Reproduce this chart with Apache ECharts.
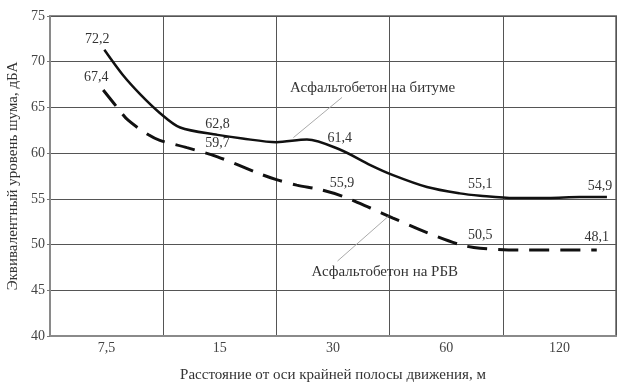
<!DOCTYPE html>
<html>
<head>
<meta charset="utf-8">
<script src="https://cdn.jsdelivr.net/npm/echarts@6/dist/echarts.min.js"></script>
<style>
  html, body { margin: 0; padding: 0; background: #fff; }
  #chart { width: 618px; height: 383px; }
</style>
</head>
<body>
<div id="chart"></div>
<script>
// distance categories (x axis labels)
const categories = ['7,5', '15', '30', '60', '120'];

// curves: x in category-band units (0..5), y in dBA
const bitumX = [0.48, 0.64, 0.80, 0.97, 1.15, 1.48, 1.70, 2.00, 2.27, 2.56, 2.83, 3.03, 3.33, 3.62, 3.80, 4.10, 4.40, 4.68, 4.92];
const bitumY = [71.3, 68.6, 66.4, 64.4, 62.8, 62.0, 61.6, 61.2, 61.5, 60.4, 58.7, 57.6, 56.3, 55.6, 55.35, 55.1, 55.1, 55.2, 55.2];
const rbvX = [0.47, 0.60, 0.69, 0.87, 0.97, 1.21, 1.48, 1.84, 2.00, 2.18, 2.39, 2.58, 2.83, 3.03, 3.33, 3.62, 3.80, 4.15, 4.83];
const rbvY = [66.9, 64.9, 63.6, 62.0, 61.4, 60.6, 59.6, 57.8, 57.1, 56.5, 56.0, 55.3, 54.0, 52.9, 51.3, 50.0, 49.6, 49.4, 49.4];

// value labels written on the curves, keyed by point index
const bitumLabels = { 0: '72,2', 5: '62,8', 9: '61,4', 14: '55,1', 18: '54,9' };
const rbvLabels = { 0: '67,4', 6: '59,7', 11: '55,9', 16: '50,5', 18: '48,1' };

const FONT = '"Liberation Serif", "DejaVu Serif", serif';

function buildData(xs, ys, labels, shiftLast) {
  return xs.map((x, i) => {
    const item = { value: [x, ys[i]] };
    if (labels[i] !== undefined) {
      item.label = { show: true, formatter: labels[i] };
      // labels at the curve ends sit a little to the left
      if (i === 0 || (shiftLast && i === xs.length - 1)) item.label.offset = [-7, 0];
    }
    return item;
  });
}

const chart = echarts.init(document.getElementById('chart'), null, { renderer: 'canvas' });

const option = {
  animation: false,
  grid: {
    left: 50,
    right: 2,
    top: 16,
    bottom: 47,
    outerBoundsMode: 'none',
    show: true,
    borderColor: '#8a8a8a',
    borderWidth: 2
  },
  xAxis: [
    {
      type: 'category',
      data: categories,
      boundaryGap: true,
      position: 'bottom',
      name: 'Расстояние от оси крайней полосы движения, м',
      nameLocation: 'middle',
      nameGap: 32,
      nameTextStyle: { fontFamily: FONT, fontSize: 15, color: '#333' },
      axisLine: { lineStyle: { color: '#8a8a8a', width: 2 } },
      axisTick: { show: false },
      axisLabel: { fontFamily: FONT, fontSize: 14, color: '#444', margin: 5 },
      splitLine: { show: true, lineStyle: { color: '#555', width: 1 } }
    },
    {
      type: 'value',
      min: 0,
      max: 5,
      position: 'bottom',
      show: false
    }
  ],
  yAxis: {
    type: 'value',
    min: 40,
    max: 75,
    interval: 5,
    name: 'Эквивалентный уровень шума, дБА',
    nameLocation: 'middle',
    nameGap: 28,
    nameTextStyle: { fontFamily: FONT, fontSize: 15, color: '#333' },
    axisLine: { show: true, lineStyle: { color: '#8a8a8a', width: 2 } },
    axisTick: { show: true, length: 3, lineStyle: { color: '#777' } },
    axisLabel: { fontFamily: FONT, fontSize: 14, color: '#444', margin: 5 },
    splitLine: { show: true, lineStyle: { color: '#555', width: 1 } }
  },
  series: [
    {
      name: 'Асфальтобетон на битуме',
      type: 'line',
      xAxisIndex: 1,
      smooth: 0.3,
      symbol: 'circle',
      symbolSize: 0,
      showSymbol: true,
      itemStyle: { color: '#111' },
      lineStyle: { color: '#111', width: 2.5 },
      label: { position: 'top', distance: 4, fontFamily: FONT, fontSize: 14, color: '#333' },
      data: buildData(bitumX, bitumY, bitumLabels, true),
      markLine: {
        silent: true,
        symbol: 'none',
        label: { show: false },
        lineStyle: { color: '#aaa', width: 1, type: 'solid' },
        data: [[{ coord: [2.15, 61.7] }, { coord: [2.58, 66.1] }]]
      },
      markPoint: {
        symbol: 'circle',
        symbolSize: 0,
        label: {
          show: true,
          position: 'right',
          distance: 0,
          fontFamily: FONT,
          fontSize: 15,
          color: '#333',
          formatter: 'Асфальтобетон на битуме'
        },
        data: [{ coord: [2.12, 67.1] }]
      }
    },
    {
      name: 'Асфальтобетон на РБВ',
      type: 'line',
      xAxisIndex: 1,
      smooth: 0.3,
      symbol: 'circle',
      symbolSize: 0,
      showSymbol: true,
      itemStyle: { color: '#111' },
      lineStyle: { color: '#111', width: 3, type: [20, 11] },
      label: { position: 'top', distance: 6, fontFamily: FONT, fontSize: 14, color: '#333' },
      data: buildData(rbvX, rbvY, rbvLabels, false),
      markLine: {
        silent: true,
        symbol: 'none',
        label: { show: false },
        lineStyle: { color: '#aaa', width: 1, type: 'solid' },
        data: [[{ coord: [2.54, 48.2] }, { coord: [2.99, 53.1] }]]
      },
      markPoint: {
        symbol: 'circle',
        symbolSize: 0,
        label: {
          show: true,
          position: 'right',
          distance: 0,
          fontFamily: FONT,
          fontSize: 15,
          color: '#333',
          formatter: 'Асфальтобетон на РБВ'
        },
        data: [{ coord: [2.31, 47.0] }]
      }
    }
  ]
};

chart.setOption(option);
</script>
</body>
</html>
